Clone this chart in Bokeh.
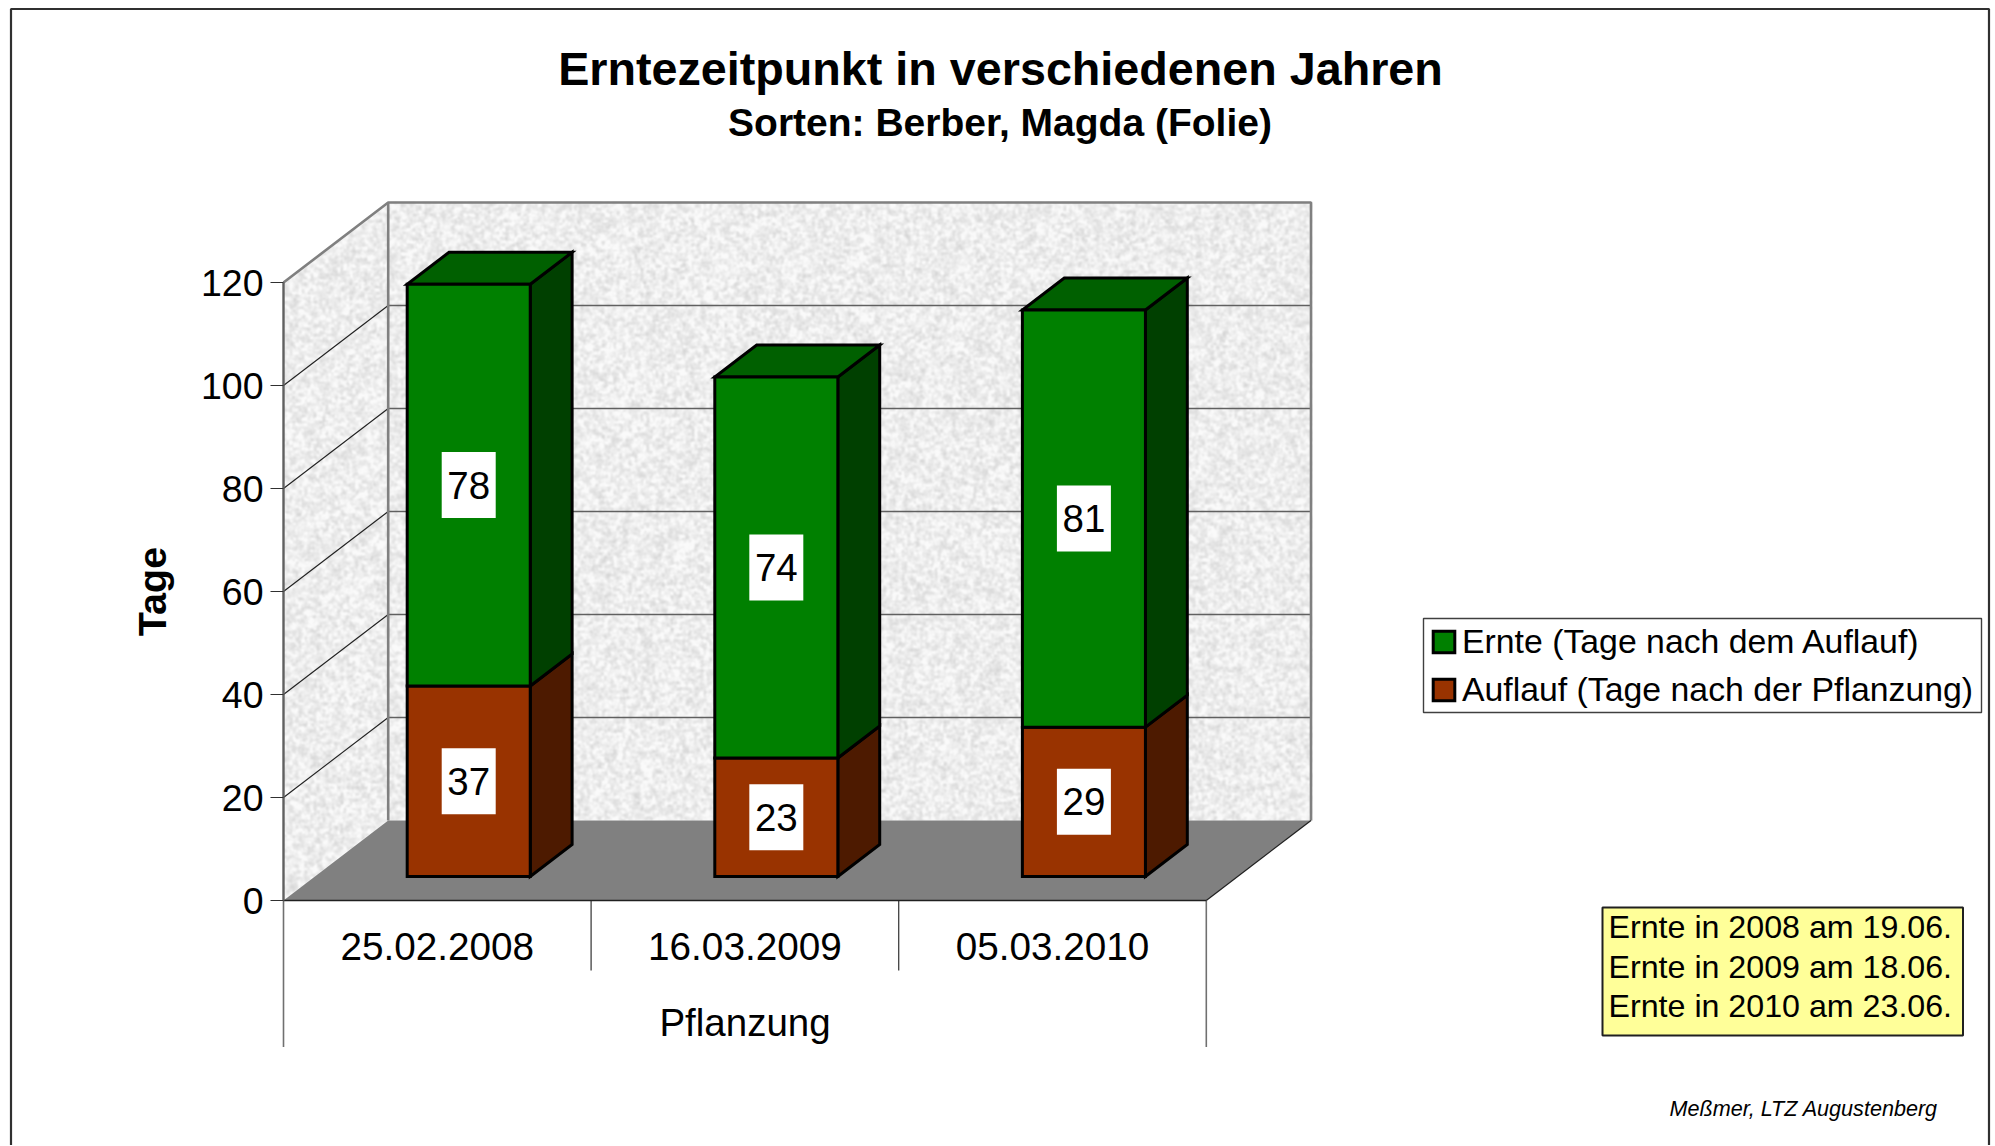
import numpy as np
from bokeh.plotting import figure
from bokeh.embed import file_html
from bokeh.resources import INLINE
from bokeh.core.properties import value
from bokeh.models import (Range1d, LinearAxis, FixedTicker, Label, Legend, LegendItem,
                          ColumnDataSource)

# ---- data -------------------------------------------------------------
planting_dates = ["25.02.2008", "16.03.2009", "05.03.2010"]
auflauf = [37, 23, 29]
ernte = [78, 74, 81]
y_ticks = [0, 20, 40, 60, 80, 100, 120]
title_text = "Erntezeitpunkt in verschiedenen Jahren"
subtitle_text = "Sorten: Berber, Magda (Folie)"
y_title = "Tage"
x_title = "Pflanzung"
legend_ernte = "Ernte (Tage nach dem Auflauf)"
legend_auflauf = "Auflauf (Tage nach der Pflanzung)"
harvest_notes = ["Ernte in 2008 am 19.06.", "Ernte in 2009 am 18.06.", "Ernte in 2010 am 23.06."]
credit = "Meßmer, LTZ Augustenberg"

# ---- layout -----------------------------------------------------------
W, H = 1992, 1145
X0, XS = 283.0, 307.6     # canvas px of category 0, px per category
Y0, YS = 900.0, 5.15      # canvas px of value 0, px per value unit
DX = 104.7 / XS           # full chart depth in x data units
DY = 80.0 / YS            # full chart depth in y data units
FONT = "Liberation Sans"
GREEN, GREEN_TOP, GREEN_SIDE = "#008000", "#006000", "#004000"
BROWN, BROWN_SIDE = "#993300", "#4D1A00"


def X(px):
    return (px - X0) / XS


def Y(py):
    return (Y0 - py) / YS


p = figure(width=W, height=H, output_backend="svg", toolbar_location=None,
           x_axis_type=None, y_axis_type=None, min_border=0,
           x_range=Range1d(X(0), X(W)), y_range=Range1d(Y(H), Y(0)),
           background_fill_color="white", border_fill_color="white")
p.grid.visible = False
p.outline_line_color = None

# ---- textured walls ---------------------------------------------------
nx, ny = 1029, 699
ii, jj = np.meshgrid(np.arange(nx), np.arange(ny))


def hash_noise(a, b, s):
    v = np.sin(a * 12.9898 + b * 78.233 + s) * 43758.5453
    return v - np.floor(v)


def blur(a, n):
    for _ in range(n):
        a = (a + np.roll(a, 1, 0) + np.roll(a, -1, 0) + np.roll(a, 1, 1) + np.roll(a, -1, 1)) / 5
    return a


fine = blur(hash_noise(ii, jj, 0.0), 2)
coarse = blur(hash_noise(ii // 3, jj // 3, 1.7), 3)
n = 0.5 * (fine - fine.mean()) / fine.std() + 0.9 * (coarse - coarse.mean()) / coarse.std()
grey = np.clip(238 + 7 * n, 200, 250).astype(np.uint32)
px = ii.astype(float)            # px right of the front-left corner
py = jj.astype(float)            # px above the value-0 line
back = px >= 104.7
sl = px * 80.0 / 104.7
left_mask = (px < 104.7) & (py >= sl) & (py <= 120 * YS + sl)
back_mask = back & (py >= 80.0) & (py <= 120 * YS + 80.0)
alpha = np.where(left_mask | back_mask, 255, 0).astype(np.uint32)
rgba = (alpha << 24) | (grey << 16) | (grey << 8) | grey
p.image_rgba(image=[rgba.astype(np.uint32)], x=0, y=0, dw=nx / XS, dh=ny / YS)

# gridlines on walls
grid_vals = [v for v in y_ticks if 0 < v < max(y_ticks)]
p.segment([DX] * len(grid_vals), [v + DY for v in grid_vals],
          [3 + DX] * len(grid_vals), [v + DY for v in grid_vals],
          line_color="#606060", line_width=1.6)
p.segment([0] * len(grid_vals), grid_vals, [DX] * len(grid_vals), [v + DY for v in grid_vals],
          line_color="#202020", line_width=1.1)

# wall edges
top = max(y_ticks)
p.line([0, DX, 3 + DX, 3 + DX], [top, top + DY, top + DY, DY], line_color="#808080", line_width=2.6)
p.line([DX, DX], [DY, top + DY], line_color="#808080", line_width=2.6)

# floor
p.patch([0, 3, 3 + DX, DX], [0, 0, DY, DY], fill_color="#808080", line_color=None)
p.line([3, 3 + DX], [0, DY], line_color="#202020", line_width=1.2)

# ---- bars -------------------------------------------------------------
centres = np.array([0.5, 1.5, 2.5])
BW = 0.4
fx, fy = 0.3 * DX, 0.3 * DY     # front face offset into the depth
bx, by = 0.4 * DX, 0.4 * DY     # bar depth
low = np.zeros(3)
mid = np.array(auflauf, float)
high = mid + np.array(ernte, float)
xc = centres + fx


def side_faces(lo, hi):
    r = xc + BW / 2
    return ([[a, a + bx, a + bx, a] for a in r],
            [[l + fy, l + fy + by, h + fy + by, h + fy] for l, h in zip(lo, hi)])


edge = dict(line_color="black", line_width=3, line_join="miter")
sx, sy = side_faces(low, mid)
p.patches(sx, sy, fill_color=BROWN_SIDE, **edge)
sx, sy = side_faces(mid, high)
p.patches(sx, sy, fill_color=GREEN_SIDE, **edge)
p.patches([[a - BW / 2, a + BW / 2, a + BW / 2 + bx, a - BW / 2 + bx] for a in xc],
          [[h + fy, h + fy, h + fy + by, h + fy + by] for h in high],
          fill_color=GREEN_TOP, **edge)
r_brown = p.vbar(x=xc, width=BW, bottom=low + fy, top=mid + fy, fill_color=BROWN, **edge)
r_green = p.vbar(x=xc, width=BW, bottom=mid + fy, top=high + fy, fill_color=GREEN, **edge)

# value labels on white boxes
lab_x = np.concatenate([xc, xc])
lab_y = np.concatenate([(low + mid) / 2 + fy, (mid + high) / 2 + fy])
lab_t = [str(v) for v in auflauf] + [str(v) for v in ernte]
lab = ColumnDataSource(dict(x=lab_x, y=lab_y, t=lab_t))
p.rect(x="x", y="y", width=54, height=66, width_units="screen", height_units="screen",
       fill_color="white", line_color=None, source=lab)
p.text(x="x", y="y", text="t", source=lab, text_align="center", text_baseline="middle",
       text_font=value(FONT), text_font_size="38.5px", text_color="black")

# ---- axes -------------------------------------------------------------
ya = LinearAxis(fixed_location=0, ticker=FixedTicker(ticks=y_ticks), bounds=(0, top),
                axis_line_color="#606060", axis_line_width=2.4,
                major_tick_out=13, major_tick_in=0, major_tick_line_color="#303030",
                major_tick_line_width=1.2, minor_tick_line_color=None,
                major_label_standoff=7, major_label_text_font=FONT,
                major_label_text_font_size="37.5px", major_label_text_color="black",
                axis_label=y_title, axis_label_text_font=FONT, axis_label_text_font_style="bold",
                axis_label_text_font_size="39.5px", axis_label_text_color="black",
                axis_label_standoff=24)
p.add_layout(ya, "left")

xa = LinearAxis(fixed_location=0, ticker=FixedTicker(ticks=list(centres)), bounds=(0, 3),
                axis_line_color="#202020", axis_line_width=1.6,
                major_tick_line_color=None, minor_tick_line_color=None,
                major_label_overrides={float(c): d for c, d in zip(centres, planting_dates)},
                major_label_standoff=26, major_label_text_font=FONT,
                major_label_text_font_size="38.7px", major_label_text_color="black",
                axis_label=x_title, axis_label_text_font=FONT,
                axis_label_text_font_style="normal", axis_label_text_font_size="38.5px",
                axis_label_text_color="black", axis_label_standoff=38)
p.add_layout(xa, "below")

# category dividers below the axis
p.segment([1, 2], [0, 0], [1, 2], [Y(970)] * 2, line_color="#404040", line_width=1.3)
p.segment([0, 3], [0, 0], [0, 3], [Y(1046.5)] * 2, line_color="#707070", line_width=1.6)

# ---- legend -----------------------------------------------------------
p.quad(left=[X(1423)], right=[X(1981)], top=[Y(618)], bottom=[Y(712)],
       fill_color="white", line_color="#404040", line_width=1.4)
leg = Legend(items=[LegendItem(label=legend_ernte, renderers=[r_green]),
                    LegendItem(label=legend_auflauf, renderers=[r_brown])],
             location=(1425, H - 713.5), orientation="vertical",
             background_fill_alpha=0, border_line_alpha=0, padding=5, margin=0,
             glyph_width=27, glyph_height=27, label_standoff=5, spacing=9,
             label_text_font=FONT, label_text_font_size="33.8px", label_text_color="black")
p.add_layout(leg, "center")

# ---- note box ---------------------------------------------------------
p.quad(left=[X(1602)], right=[X(1962.5)], top=[Y(907)], bottom=[Y(1035)],
       fill_color="#FFFF99", line_color="#202020", line_width=2)
note_y = [926.7, 966, 1005]
for t, yy in zip(harvest_notes, note_y):
    p.add_layout(Label(x=X(1608), y=Y(yy), text=t, text_font=FONT, text_font_size="32.2px",
                       text_align="left", text_baseline="middle", text_color="black"))

# ---- titles -----------------------------------------------------------
p.add_layout(Label(x=X(1000), y=Y(68), text=title_text, text_font=FONT, text_font_size="46.7px",
                   text_font_style="bold", text_align="center", text_baseline="middle",
                   text_color="black"))
p.add_layout(Label(x=X(999.5), y=Y(122), text=subtitle_text, text_font=FONT, text_font_size="39px",
                   text_font_style="bold", text_align="center", text_baseline="middle",
                   text_color="black"))
p.add_layout(Label(x=X(1669), y=Y(1108), text=credit, text_font=FONT, text_font_size="21.6px",
                   text_font_style="italic", text_align="left", text_baseline="middle",
                   text_color="black"))

# ---- page frame -------------------------------------------------------
p.line([X(10.5), X(10.5), X(1988.5), X(1988.5)], [Y(H), Y(8.5), Y(8.5), Y(H)],
       line_color="#303030", line_width=2.2)

open("out.html", "w").write(file_html(p, INLINE))
